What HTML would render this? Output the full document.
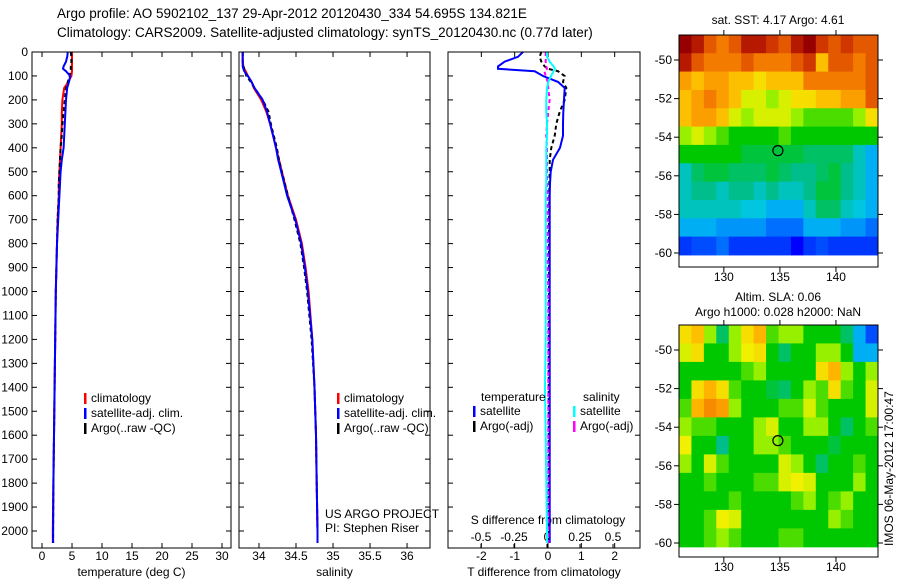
<!DOCTYPE html>
<html><head><meta charset="utf-8"><style>
body{margin:0;background:#fff;}
svg{display:block;font-family:"Liberation Sans",sans-serif;font-size:12px;}
</style></head><body>
<svg id="chart" width="900" height="580" viewBox="0 0 900 580" xmlns="http://www.w3.org/2000/svg">
<rect width="900" height="580" fill="#fff"/>
<text x="57" y="18" font-size="13.5">Argo profile: AO 5902102_137 29-Apr-2012 20120430_334 54.695S 134.821E</text>
<text x="57" y="37" font-size="13.5">Climatology: CARS2009. Satellite-adjusted climatology: synTS_20120430.nc (0.77d later)</text>
<g id="g"></g>
</svg>
<script>
// ---- profile data ----
const depths = [0,20,40,60,70,80,100,125,150,200,250,300,350,400,450,500,550,600,700,800,900,1000,1200,1400,1600,1800,2000,2050];
const tempClim = [5.0,5.0,5.0,5.0,5.0,5.0,4.9,4.4,3.7,3.4,3.3,3.3,3.2,3.1,3.0,2.9,2.8,2.8,2.6,2.5,2.4,2.3,2.2,2.1,2.0,1.9,1.8,1.8];
const tempSat = [4.3,4.2,4.0,3.6,3.5,4.0,4.7,4.5,4.2,4.0,3.9,3.8,3.7,3.6,3.3,3.1,3.0,2.9,2.7,2.5,2.4,2.3,2.2,2.1,2.0,1.9,1.85,1.85];
const tempArgo = [4.8,4.9,4.9,4.8,4.8,4.8,4.6,4.3,4.0,3.8,3.6,3.4,3.3,3.1,3.0,2.9,2.8,2.8,2.6,2.5,2.4,2.3,2.2,2.1,2.0,1.9,1.85,1.85];
const salClim = [33.78,33.78,33.78,33.79,33.80,33.82,33.85,33.90,33.93,34.03,34.10,34.15,34.19,34.23,34.27,34.31,34.35,34.39,34.50,34.58,34.63,34.67,34.72,34.75,34.77,34.78,34.79,34.79];
const salSat = [33.78,33.78,33.78,33.78,33.79,33.80,33.85,33.90,33.94,34.05,34.11,34.15,34.19,34.23,34.26,34.30,34.34,34.38,34.49,34.57,34.62,34.66,34.72,34.75,34.77,34.78,34.79,34.79];
const salArgo = [33.78,33.78,33.78,33.79,33.80,33.81,33.83,33.89,33.94,34.05,34.13,34.16,34.20,34.24,34.27,34.31,34.35,34.39,34.48,34.56,34.61,34.65,34.71,34.75,34.77,34.78,34.79,34.79];
const tDiffSat = [-0.75,-0.9,-1.3,-1.5,-1.5,-0.4,-0.15,0.3,0.5,0.48,0.46,0.45,0.45,0.36,0.15,0.08,0.06,0.05,0.05,0.05,0.05,0.05,0.05,0.05,0.05,0.05,0.05,0.05];
const tDiffArgo = [-0.2,-0.25,-0.2,-0.1,0,0.3,0.5,0.45,0.55,0.5,0.35,0.25,0.2,0.1,0.05,0.05,0.04,0.04,0.03,0.03,0.03,0.03,0.02,0.02,0.02,0.02,0.02,0.02];
const sDiffSat = [0,0,0.02,0.05,0.06,0.05,0.03,0.01,0,-0.005,-0.005,0,0,-0.005,-0.005,-0.005,-0.005,-0.01,-0.01,-0.01,-0.01,-0.01,-0.01,-0.015,-0.01,-0.005,0,0];
const sDiffArgo = [-0.01,-0.01,-0.01,-0.005,0.0,-0.02,-0.01,0.005,0.01,0.02,0.01,0.0,-0.005,0.0,0.0,0.0,0.0,0.005,0.005,0.005,0.005,0.01,0.01,0.01,0.01,0.01,0.01,0.01];
const depthTicks = [0,100,200,300,400,500,600,700,800,900,1000,1100,1200,1300,1400,1500,1600,1700,1800,1900,2000];
const tempTicks = [0,5,10,15,20,25,30];
const salTicks = [34,34.5,35,35.5,36];
const tDiffTicks = [-2,-1,0,1,2];
const sDiffTicks = [-0.5,-0.25,0,0.25,0.5];
const sDiffTickLabels = ["-0.5","-0.25","0","0.25","0.5"];
// ---- map data (colormap index 0..1), rows north->south, 16 cols west->east ----
const sstGrid = [
[1.0,0.95,0.85,0.8,0.85,0.95,0.95,0.9,0.85,0.95,1.0,0.9,0.85,0.9,0.85,0.85],
[0.95,0.85,0.8,0.8,0.8,0.85,0.8,0.8,0.8,0.85,0.9,0.7,0.85,0.85,0.8,0.85],
[0.75,0.7,0.75,0.75,0.7,0.7,0.65,0.7,0.7,0.7,0.8,0.8,0.8,0.8,0.8,0.85],
[0.7,0.75,0.8,0.75,0.7,0.6,0.6,0.55,0.6,0.65,0.65,0.7,0.7,0.75,0.75,0.85],
[0.7,0.75,0.75,0.7,0.6,0.55,0.6,0.6,0.6,0.55,0.5,0.5,0.5,0.5,0.55,0.65],
[0.55,0.6,0.55,0.5,0.45,0.45,0.45,0.45,0.5,0.45,0.45,0.45,0.45,0.45,0.45,0.45],
[0.45,0.45,0.45,0.45,0.45,0.42,0.42,0.42,0.42,0.42,0.4,0.4,0.4,0.4,0.35,0.3],
[0.35,0.4,0.42,0.42,0.4,0.4,0.4,0.42,0.4,0.38,0.38,0.4,0.42,0.38,0.35,0.3],
[0.35,0.38,0.38,0.35,0.38,0.38,0.35,0.38,0.35,0.35,0.38,0.42,0.42,0.38,0.35,0.3],
[0.35,0.35,0.35,0.35,0.35,0.33,0.33,0.3,0.3,0.3,0.35,0.4,0.4,0.35,0.33,0.3],
[0.3,0.3,0.3,0.28,0.28,0.28,0.28,0.25,0.25,0.25,0.3,0.3,0.3,0.28,0.28,0.25],
[0.2,0.22,0.22,0.25,0.2,0.2,0.2,0.2,0.2,0.15,0.2,0.22,0.2,0.2,0.2,0.2]];
const slaGrid = [
[0.65,0.7,0.55,0.4,0.55,0.65,0.72,0.5,0.55,0.55,0.45,0.45,0.45,0.4,0.3,0.22],
[0.6,0.65,0.45,0.45,0.55,0.62,0.65,0.45,0.4,0.45,0.45,0.55,0.55,0.45,0.3,0.3],
[0.45,0.45,0.45,0.45,0.45,0.5,0.55,0.45,0.45,0.45,0.45,0.65,0.72,0.55,0.45,0.55],
[0.45,0.65,0.72,0.65,0.5,0.45,0.45,0.42,0.4,0.45,0.55,0.5,0.65,0.5,0.45,0.6],
[0.5,0.72,0.78,0.75,0.55,0.45,0.45,0.45,0.5,0.5,0.6,0.5,0.45,0.45,0.45,0.6],
[0.55,0.5,0.5,0.45,0.45,0.45,0.55,0.6,0.45,0.45,0.55,0.55,0.45,0.4,0.45,0.5],
[0.62,0.45,0.45,0.38,0.45,0.45,0.55,0.55,0.5,0.45,0.45,0.45,0.42,0.45,0.45,0.45],
[0.55,0.45,0.6,0.5,0.45,0.45,0.45,0.45,0.6,0.55,0.45,0.4,0.45,0.45,0.5,0.45],
[0.45,0.45,0.5,0.45,0.45,0.45,0.5,0.5,0.6,0.62,0.6,0.45,0.45,0.45,0.55,0.45],
[0.45,0.45,0.45,0.45,0.5,0.45,0.45,0.45,0.45,0.5,0.55,0.45,0.5,0.55,0.45,0.45],
[0.45,0.45,0.5,0.62,0.6,0.45,0.45,0.45,0.45,0.45,0.45,0.45,0.55,0.5,0.45,0.45],
[0.45,0.45,0.5,0.55,0.5,0.45,0.45,0.45,0.5,0.5,0.45,0.45,0.45,0.45,0.45,0.45]];
const mapLatTicks = [-50,-52,-54,-56,-58,-60];
const mapLonTicks = [130,135,140];
const argoLon = 134.821, argoLat = -54.695;

const NS="http://www.w3.org/2000/svg";
const G=document.getElementById('g');
function mk(tag,attrs,parent){const e=document.createElementNS(NS,tag);for(const k in attrs)e.setAttribute(k,attrs[k]);(parent||G).appendChild(e);return e;}
function lin(d0,d1,r0,r1){return v=>r0+(v-d0)/(d1-d0)*(r1-r0);}
const PY0=52, PY1=548;
const yD = lin(0,2000,52,531);

function panel(name,x0,x1,dom,ticks,labels,xlabel,yLabels){
  const g=mk('g',{});
  
  
  const sx=lin(dom[0],dom[1],x0,x1);
  depthTicks.forEach(d=>{
    const y=yD(d);
    mk('line',{x1:x0,x2:x0+5,y1:y,y2:y,stroke:'#000'},g);
    mk('line',{x1:x1-5,x2:x1,y1:y,y2:y,stroke:'#000'},g);
    if(yLabels){const t=mk('text',{x:x0-4,y:y+4,'text-anchor':'end'},g);t.textContent=d;
      
      }
  });
  ticks.forEach((v,i)=>{
    const x=sx(v);
    mk('line',{x1:x,x2:x,y1:PY1,y2:PY1-5,stroke:'#000'},g);
    mk('line',{x1:x,x2:x,y1:PY0,y2:PY0+5,stroke:'#000'},g);
    const t=mk('text',{x:x,y:560,'text-anchor':'middle'},g);t.textContent=labels[i];
    
    
  });
  const xl=mk('text',{x:(x0+x1)/2,y:576,'text-anchor':'middle'},g);xl.textContent=xlabel;
  
  
  return {g,sx};
}
function series(g,sx,vals,color,dash,name,w){
  const pts=vals.map((v,i)=>sx(v).toFixed(1)+','+yD(depths[i]).toFixed(1)).join(' ');
  const p=mk('polyline',{points:pts,fill:'none',stroke:color,'stroke-width':w||2,'stroke-dasharray':dash||'none'},g);
  
  
}
function legend(g,x,y,color,label,name){
  mk('rect',{x:x,y:y-9,width:2.5,height:11,fill:color},g);
  const t=mk('text',{x:x+7,y:y},g);t.textContent=label;
  
  
}
let P=panel('temperature-panel',32,231,[-1.67,31.5],tempTicks,tempTicks.map(String),'temperature (deg C)',true);
series(P.g,P.sx,tempClim,'#f00',null,'temp-climatology-line');
series(P.g,P.sx,tempArgo,'#000','4 3','temp-argo-line');
series(P.g,P.sx,tempSat,'#00f',null,'temp-satellite-line');
legend(P.g,84,402,'#f00','climatology','legend-climatology');
legend(P.g,84,417,'#00f','satellite-adj. clim.','legend-satellite');
legend(P.g,84,432,'#000','Argo(..raw -QC)','legend-argo');
P=panel('salinity-panel',239,430,[33.73,36.31],salTicks,salTicks.map(String),'salinity',false);
series(P.g,P.sx,salClim,'#f00',null,'sal-climatology-line');
series(P.g,P.sx,salArgo,'#000','4 3','sal-argo-line');
series(P.g,P.sx,salSat,'#00f',null,'sal-satellite-line');
legend(P.g,337,402,'#f00','climatology','legend-climatology');
legend(P.g,337,417,'#00f','satellite-adj. clim.','legend-satellite');
legend(P.g,337,432,'#000','Argo(..raw -QC)','legend-argo');
let t=mk('text',{x:325,y:518},P.g);t.textContent='US ARGO PROJECT';


t=mk('text',{x:325,y:532},P.g);t.textContent='PI: Stephen Riser';


P=panel('difference-panel',448,640,[-3,2.76],tDiffTicks,tDiffTicks.map(String),'T difference from climatology',false);
const sxS=lin(0,1,547,679);
sDiffTicks.forEach((v,i)=>{const x=sxS(v);mk('line',{x1:x,x2:x,y1:PY1,y2:PY1-4,stroke:'#000'},P.g);
  const tt=mk('text',{x:x,y:541,'text-anchor':'middle'},P.g);tt.textContent=sDiffTickLabels[i];
  
  });
t=mk('text',{x:548,y:524,'text-anchor':'middle'},P.g);t.textContent='S difference from climatology';


series(P.g,P.sx,tDiffArgo,'#000','4 3','tdiff-argo-line');
series(P.g,P.sx,tDiffSat,'#00f',null,'tdiff-satellite-line');
series(P.g,sxS,sDiffArgo,'#f0f','4 3','sdiff-argo-line');
series(P.g,sxS,sDiffSat,'#0ff',null,'sdiff-satellite-line');
t=mk('text',{x:481,y:401},P.g);t.textContent='temperature';


t=mk('text',{x:583,y:401},P.g);t.textContent='salinity';


legend(P.g,473,415,'#00f','satellite','legend-t-satellite');
legend(P.g,473,430,'#000','Argo(-adj)','legend-t-argo');
legend(P.g,573,415,'#0ff','satellite','legend-s-satellite');
legend(P.g,573,430,'#f0f','Argo(-adj)','legend-s-argo');
[[32,231],[239,430],[448,640]].forEach(([a,b])=>{const r=mk('rect',{x:a,y:PY0,width:b-a,height:PY1-PY0,fill:'none',stroke:'#000'});
  
  });

const cmapStops=[[0,[0,0,140]],[0.15,[0,0,255]],[0.25,[0,110,255]],[0.32,[0,200,240]],[0.38,[0,190,140]],[0.45,[0,200,0]],[0.55,[150,240,0]],[0.62,[240,240,0]],[0.72,[255,180,0]],[0.82,[240,110,0]],[0.92,[200,40,0]],[1,[150,0,0]]];
function cmap(v){v=Math.max(0,Math.min(1,v));
  for(let i=1;i<cmapStops.length;i++){const [a,ca]=cmapStops[i-1],[b,cb]=cmapStops[i];
    if(v<=b){const f=(v-a)/(b-a);return 'rgb('+ca.map((c,k)=>Math.round(c+(cb[k]-c)*f)).join(',')+')';}}
  return 'rgb(150,0,0)';}
function map(name,grid,fy0,fy1,latTop,latBot,lat50y,lat60y){
  const g=mk('g',{});
  
  
  const sx=lin(126,143.75,679,878), sy=lin(-50,-60,lat50y,lat60y);
  const nr=grid.length,nc=grid[0].length,dLat=(latTop-latBot)/nr,dLon=(143.75-126)/nc;
  grid.forEach((row,i)=>row.forEach((v,j)=>{
    const xa=sx(126+j*dLon),xb=sx(126+(j+1)*dLon),ya=sy(latTop-i*dLat),yb=sy(latTop-(i+1)*dLat);
    const c=mk('rect',{x:xa,y:ya,width:xb-xa+0.5,height:yb-ya+0.5,fill:cmap(v)},g);
    
    
  }));
  mk('rect',{x:679,y:fy0,width:199,height:fy1-fy0,fill:'none',stroke:'#000'},g);
  mapLatTicks.forEach(l=>{const y=sy(l);mk('line',{x1:679,x2:674,y1:y,y2:y,stroke:'#000'},g);mk('line',{x1:878,x2:883,y1:y,y2:y,stroke:'#000'},g);
    const tt=mk('text',{x:672,y:y+4,'text-anchor':'end'},g);tt.textContent=l;
    
    });
  mapLonTicks.forEach(l=>{const x=sx(l);mk('line',{x1:x,x2:x,y1:fy0,y2:fy0-5,stroke:'#000'},g);mk('line',{x1:x,x2:x,y1:fy1,y2:fy1+5,stroke:'#000'},g);
    const tt=mk('text',{x:x,y:fy1+14,'text-anchor':'middle'},g);tt.textContent=l;
    
    });
  const m=mk('circle',{cx:sx(argoLon),cy:sy(argoLat),r:5,fill:'none',stroke:'#000','stroke-width':1.2},g);
  
  
}
map('sst-map',sstGrid,35,267,-48.7,-60.1,60,253);
map('sla-map',slaGrid,325,557,-48.7,-60.2,350,543);
t=mk('text',{x:778,y:24,'text-anchor':'middle'});t.textContent='sat. SST: 4.17 Argo: 4.61';


t=mk('text',{x:778,y:301,'text-anchor':'middle'});t.textContent='Altim. SLA: 0.06';


t=mk('text',{x:778,y:316,'text-anchor':'middle'});t.textContent='Argo h1000: 0.028 h2000: NaN';


t=mk('text',{x:0,y:0,transform:'translate(893,546) rotate(-90)'});t.textContent='IMOS 06-May-2012 17:00:47';


</script>
</body></html>
